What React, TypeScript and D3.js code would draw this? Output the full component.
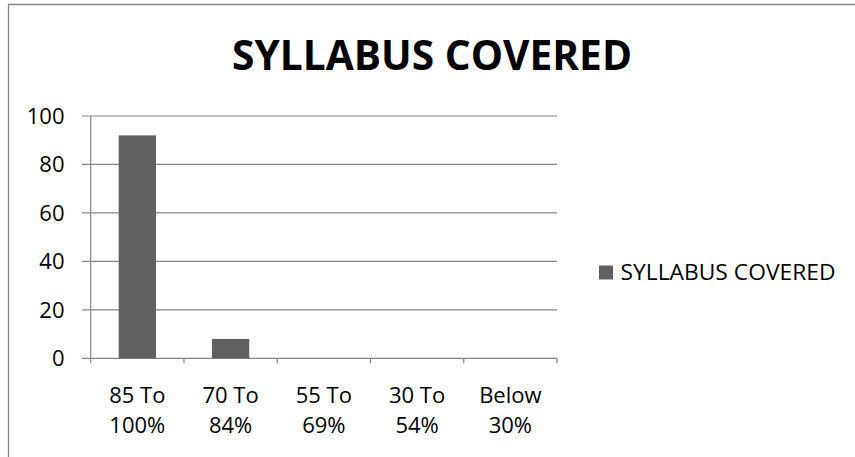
import React from "react";
import * as d3 from "d3";

const categories = ["85 To|100%", "70 To|84%", "55 To|69%", "30 To|54%", "Below|30%"];
const values = [92, 8, 0, 0, 0];
const yTicks = [0, 20, 40, 60, 80, 100];
const seriesName = "SYLLABUS COVERED";
const title = "SYLLABUS COVERED";

export default function App() {
  const W = 855, H = 457;
  const left = 90.7, right = 557, top = 116, bottom = 358.3;
  const x = d3.scaleBand<string>().domain(categories).range([left, right]).paddingInner(0.6).paddingOuter(0.3);
  const bandX = d3.scaleBand<string>().domain(categories).range([left, right]);
  const y = d3.scaleLinear().domain([0, 100]).range([bottom, top]);
  const grid = "#868686";
  const font = "'Open Sans', sans-serif";
  return (
    <svg width={W} height={H} style={{ position: "absolute", left: 0, top: 0, background: "#fff" }}>
      <rect x={0} y={0} width={W} height={H} fill="#fff" />
      <path d="M8.5,457 L8.5,4.5 L855,4.5" fill="none" stroke="#878787" strokeWidth={1.3} />
      <text x={432} y={70} textAnchor="middle" fontFamily={font} fontWeight="bold" fontSize={42} textLength={400} lengthAdjust="spacingAndGlyphs" fill="#000">{title}</text>
      {yTicks.map((t) => (
        <g key={t}>
          <line x1={82} x2={right} y1={y(t)} y2={y(t)} stroke={grid} strokeWidth={1.2} />
          <text x={64.5} y={y(t) + 8} textAnchor="end" fontFamily={font} fontSize={22} fill="#000">{t}</text>
        </g>
      ))}
      <line x1={left} x2={left} y1={top} y2={bottom + 5} stroke={grid} strokeWidth={1.2} />
      {categories.map((c) => (
        <line key={"t" + c} x1={(bandX(c) as number) + bandX.bandwidth()} x2={(bandX(c) as number) + bandX.bandwidth()} y1={bottom} y2={bottom + 5} stroke={grid} strokeWidth={1.2} />
      ))}
      {categories.map((c, i) => (
        values[i] > 0 ? (
          <rect key={"b" + c} x={x(c)} y={y(values[i])} width={x.bandwidth()} height={bottom - y(values[i])} fill="#606060" />
        ) : null
      ))}
      {categories.map((c) => {
        const cx = (bandX(c) as number) + bandX.bandwidth() / 2;
        const [l1, l2] = c.split("|");
        return (
          <g key={"l" + c}>
            <text x={cx} y={403} textAnchor="middle" fontFamily={font} fontSize={22} fill="#000">{l1}</text>
            <text x={cx} y={433} textAnchor="middle" fontFamily={font} fontSize={22} fill="#000">{l2}</text>
          </g>
        );
      })}
      <rect x={599} y={265.5} width={14} height={14} fill="#606060" />
      <text x={620.5} y={280} fontFamily={font} fontSize={21} textLength={215} lengthAdjust="spacingAndGlyphs" fill="#000">{seriesName}</text>
    </svg>
  );
}
